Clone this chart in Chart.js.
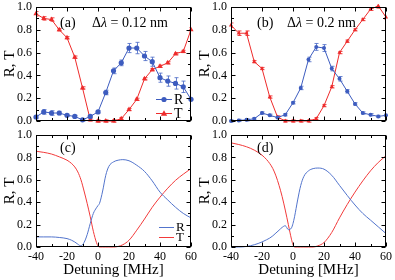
<!DOCTYPE html>
<html><head><meta charset="utf-8">
<script src="https://cdn.jsdelivr.net/npm/chart.js@4.4.0/dist/chart.umd.min.js"></script>
<style>
html,body{margin:0;padding:0;background:#fff;}
#wrap{position:relative;width:395px;height:280px;overflow:hidden;background:#fff;}
canvas{position:absolute;left:0;top:0;}
</style>
</head><body>
<div id="wrap">
<canvas id="ca" width="395" height="280"></canvas>
<canvas id="cb" width="395" height="280"></canvas>
<canvas id="cc" width="395" height="280"></canvas>
<canvas id="cd" width="395" height="280"></canvas>
</div>
<script>
// ---- experimental data (panels a, b) ----
const xExp = [-40,-35,-30,-25,-20,-15,-10,-5,0,5,10,15,20,25,30,35,40,45,50,55,60];
const rA    = [0.035,0.08,0.07,0.07,0.05,0.04,0.01,0.04,0.08,0.25,0.44,0.51,0.64,0.64,0.57,0.52,0.38,0.35,0.33,0.30,0.19];
const rAErr = [0.015,0.02,0.02,0.015,0.01,0.01,0.01,0.01,0.01,0.02,0.025,0.025,0.04,0.05,0.04,0.04,0.04,0.045,0.05,0.05,0.08];
const tA    = [0.94,0.90,0.89,0.80,0.73,0.56,0.29,0.01,0.0,0.0,0.0,0.02,0.10,0.19,0.37,0.45,0.48,0.51,0.59,0.61,0.80];
const tAErr = [0.02,0.015,0.015,0.01,0.01,0.01,0.01,0.01,0.01,0.01,0.01,0.01,0.01,0.01,0.01,0.01,0.01,0.01,0.01,0.01,0.02];
const rB    = [0.0,0.005,0.01,0.02,0.07,0.05,0.03,0.055,0.16,0.29,0.54,0.65,0.64,0.46,0.37,0.26,0.15,0.07,0.055,0.04,0.05];
const rBErr = [0.01,0.01,0.01,0.01,0.01,0.01,0.01,0.01,0.01,0.015,0.02,0.03,0.03,0.02,0.02,0.015,0.01,0.01,0.01,0.01,0.01];
const tB    = [0.84,0.77,0.77,0.52,0.46,0.21,0.035,0.0,0.0,0.0,0.0,0.02,0.135,0.30,0.60,0.70,0.80,0.89,0.98,1.01,0.91];
const tBErr = [0.02,0.02,0.02,0.01,0.01,0.01,0.01,0.01,0.01,0.01,0.01,0.01,0.01,0.01,0.01,0.01,0.01,0.01,0.01,0.02,0.02];
// ---- simulated curves (panels c, d) ----
const xSim = [-40,-35,-30,-25,-20,-17,-15,-13,-11,-9,-7,-5,-3,-1,0,1,3,5,7,10,13,16,20,25,30,35,40,45,50,55,60];
const rC = [0.09,0.09,0.09,0.085,0.075,0.06,0.045,0.025,0.01,0.04,0.11,0.21,0.30,0.35,0.37,0.39,0.50,0.64,0.72,0.76,0.775,0.78,0.77,0.73,0.675,0.59,0.49,0.42,0.355,0.30,0.26];
const tC = [0.855,0.845,0.83,0.805,0.775,0.745,0.715,0.67,0.60,0.50,0.39,0.27,0.14,0.04,0.01,0.0,0.0,0.0,0.0,0.0,0.005,0.02,0.06,0.15,0.25,0.355,0.445,0.525,0.595,0.65,0.70];
const rD = [0.0,0.0,0.005,0.02,0.045,0.065,0.08,0.10,0.125,0.15,0.175,0.19,0.155,0.17,0.21,0.27,0.42,0.55,0.63,0.68,0.70,0.705,0.695,0.64,0.55,0.46,0.375,0.30,0.24,0.18,0.12];
const tD = [0.93,0.915,0.895,0.865,0.82,0.78,0.745,0.70,0.635,0.55,0.45,0.33,0.20,0.07,0.02,0.0,0.0,0.0,0.0,0.0,0.0,0.01,0.04,0.13,0.26,0.38,0.49,0.59,0.68,0.755,0.815];
const xTickLabels = ['-40','-20','0','20','40','60'];
const yTickLabels = ['0.0','0.2','0.4','0.6','0.8','1.0'];

const SERIF = "'Liberation Serif','Times New Roman',serif";
const BLUE = '#3d5cbf', RED = '#ee2b2b';
const BLUE2 = '#5274cc', RED2 = '#f23a3a';

function pts(xs, ys){ return xs.map((x,i)=>({x:x, y:ys[i]})); }

const deco = {
  id:'deco',
  beforeDatasetsDraw(chart){
    const ctx = chart.ctx, ca = chart.chartArea, ys = chart.scales.y;
    ctx.save();
    ctx.beginPath(); ctx.rect(ca.left, ca.top-2, ca.right-ca.left, ca.bottom-ca.top+4); ctx.clip();
    chart.data.datasets.forEach((ds,i)=>{
      if(!ds.errs) return;
      const meta = chart.getDatasetMeta(i);
      ctx.strokeStyle = ds.errColor; ctx.lineWidth = 1;
      ds.data.forEach((p,j)=>{
        const e = ds.errs[j]; if(!e) return;
        const px = Math.round(meta.data[j].x)+0.5;
        const y1 = ys.getPixelForValue(p.y-e), y2 = ys.getPixelForValue(p.y+e);
        ctx.beginPath();
        ctx.moveTo(px,y1); ctx.lineTo(px,y2);
        ctx.moveTo(px-2,y1); ctx.lineTo(px+2,y1);
        ctx.moveTo(px-2,y2); ctx.lineTo(px+2,y2);
        ctx.stroke();
      });
    });
    ctx.restore();
  },
  afterDraw(chart, args, o){
    const ctx = chart.ctx, ca = chart.chartArea, xs = chart.scales.x, ys = chart.scales.y;
    ctx.save();
    ctx.strokeStyle = '#000'; ctx.lineWidth = 1;
    const L = Math.round(ca.left)+0.5, R = Math.round(ca.right)-0.5, T = Math.round(ca.top)+0.5, B = Math.round(ca.bottom)-0.5;
    ctx.strokeRect(L, T, R-L, B-T);
    ctx.beginPath();
    for(let k=0;k<=10;k++){
      const py = Math.round(ys.getPixelForValue(k/10))+0.5;
      const len = (k%2===0)?4:2.5;
      ctx.moveTo(L,py); ctx.lineTo(L+len,py);
      ctx.moveTo(R,py); ctx.lineTo(R-len,py);
    }
    for(let v=-40; v<=60; v+=10){
      const px = Math.round(xs.getPixelForValue(v))+0.5;
      const len = (v%20===0)?4:2.5;
      ctx.moveTo(px,T); ctx.lineTo(px,T+len);
      ctx.moveTo(px,B); ctx.lineTo(px,B-len);
    }
    ctx.stroke();
    ctx.fillStyle = '#000'; ctx.textBaseline = 'middle'; ctx.textAlign = 'left';
    ctx.font = '14px ' + SERIF;
    ctx.fillText(o.label.text, o.label.x, o.label.y);
    if(o.dl){
      let x = o.dl.x;
      ctx.font = '14px ' + SERIF; ctx.fillText('\u0394', x, o.dl.y); x += ctx.measureText('\u0394').width;
      ctx.font = 'italic 14px ' + SERIF; ctx.fillText('\u03BB', x, o.dl.y); x += ctx.measureText('\u03BB').width;
      ctx.font = '14px ' + SERIF; ctx.fillText(' = ' + o.dl.text, x, o.dl.y);
    }
    if(o.legend){
      const lg = o.legend;
      lg.items.forEach(it=>{
        ctx.strokeStyle = it.color; ctx.lineWidth = 1;
        ctx.beginPath(); ctx.moveTo(lg.x1, it.y+0.5); ctx.lineTo(lg.x2, it.y+0.5); ctx.stroke();
        ctx.fillStyle = it.color;
        const mx = (lg.x1+lg.x2)/2;
        if(it.marker==='circle'){ ctx.beginPath(); ctx.arc(mx, it.y+0.5, 2.6, 0, Math.PI*2); ctx.fill(); }
        if(it.marker==='triangle'){ ctx.beginPath(); ctx.moveTo(mx, it.y-2.8); ctx.lineTo(mx+3.2, it.y+2.8); ctx.lineTo(mx-3.2, it.y+2.8); ctx.closePath(); ctx.fill(); }
        ctx.fillStyle = '#000'; ctx.font = lg.size + 'px ' + SERIF; ctx.textBaseline='middle';
        ctx.fillText(it.label, lg.tx, it.y+1);
      });
    }
    ctx.restore();
  }
};

function makeChart(id, cfg){
  const showX = cfg.showX;
  const xScale = {
    type:'linear', min:-40, max:60, display: showX,
    ticks:{stepSize:20, padding:3, maxRotation:0, autoSkip:false, color:'#000', font:{family:SERIF, size:12},
      callback:(v)=>{ const i = xTickLabels.indexOf(String(v)); return i>=0 ? xTickLabels[i] : ''; }},
    grid:{display:false, drawTicks:false}, border:{display:false},
    title:{display:true, text:'Detuning [MHz]', color:'#000', font:{family:SERIF, size:15}, padding:{top:0,bottom:1}},
    afterFit:(s)=>{ if(showX){ s.height = 33; } s.paddingLeft = 0; s.paddingRight = 0; }
  };
  const yScale = {
    type:'linear', min:0, max:1,
    ticks:{stepSize:0.2, padding:4, autoSkip:false, color:'#000', font:{family:SERIF, size:12},
      callback:(v)=>yTickLabels[Math.round(v*5)]},
    grid:{display:false, drawTicks:false}, border:{display:false},
    title:{display:true, text:'R, T', color:'#000', font:{family:SERIF, size:15}, padding:{top:1,bottom:0}},
    afterFit:(s)=>{ s.width = 36; s.paddingTop = 0; s.paddingBottom = 0; }
  };
  return new Chart(document.getElementById(id), {
    type:'line',
    data:{datasets:cfg.datasets},
    options:{
      responsive:false, animation:false, devicePixelRatio:1,
      layout:{padding:cfg.padding},
      scales:{x:xScale, y:yScale},
      plugins:{legend:{display:false}, tooltip:{enabled:false}, deco:cfg.deco}
    },
    plugins:[deco]
  });
}

function expSet(label, xs, ys, errs, color, errColor, style, r){
  return {label, data:pts(xs,ys), errs, errColor, borderColor:color, backgroundColor:color,
    borderWidth:1, pointStyle:style, pointRadius:r, pointBorderWidth:0, tension:0, clip:3};
}
function simSet(label, xs, ys, color){
  return {label, data:pts(xs,ys), borderColor:color, borderWidth:1, pointRadius:0,
    cubicInterpolationMode:'monotone', clip:1};
}
const EB = 'rgba(80,110,200,0.85)', ER = 'rgba(240,50,50,0.9)';
const dsA = [expSet('R', xExp, rA, rAErr, BLUE, EB, 'circle', 2.6), expSet('T', xExp, tA, tAErr, RED, ER, 'triangle', 3)];
const dsB = [expSet('R', xExp, rB, rBErr, BLUE, EB, 'circle', 2), expSet('T', xExp, tB, tBErr, RED, ER, 'triangle', 2.4)];

makeChart('ca', {showX:false, padding:{left:0,right:204,top:7,bottom:159}, datasets:dsA,
  deco:{label:{text:'(a)',x:60,y:23}, dl:{text:'0.12 nm',x:92,y:23},
    legend:{x1:156,x2:172,tx:174,size:14,items:[{label:'R',color:BLUE,marker:'circle',y:99},{label:'T',color:RED,marker:'triangle',y:113}]}}});
makeChart('cb', {showX:false, padding:{left:195,right:9,top:7,bottom:159}, datasets:dsB,
  deco:{label:{text:'(b)',x:257,y:23}, dl:{text:'0.2 nm',x:287,y:23}}});
makeChart('cc', {showX:true, padding:{left:0,right:204,top:135,bottom:0},
  datasets:[simSet('R', xSim, rC, BLUE2), simSet('T', xSim, tC, RED2)],
  deco:{label:{text:'(c)',x:60,y:148},
    legend:{x1:159,x2:174,tx:176,size:13,items:[{label:'R',color:BLUE2,y:227},{label:'T',color:RED2,y:237}]}}});
makeChart('cd', {showX:true, padding:{left:195,right:9,top:135,bottom:0},
  datasets:[simSet('R', xSim, rD, BLUE2), simSet('T', xSim, tD, RED2)],
  deco:{label:{text:'(d)',x:257,y:148}}});
</script>
</body></html>
